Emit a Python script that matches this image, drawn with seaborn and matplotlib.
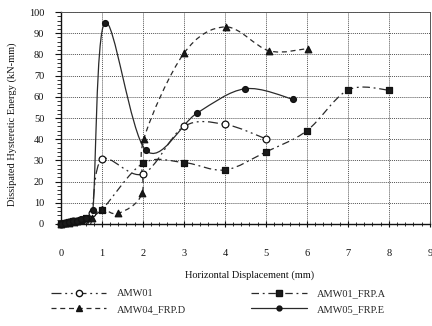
import matplotlib
matplotlib.use("Agg")
import matplotlib.pyplot as plt
from matplotlib.path import Path
from matplotlib.patches import PathPatch
from matplotlib.lines import Line2D
from matplotlib.ticker import MultipleLocator
import seaborn as sns
import pandas as pd

sns.set_style("whitegrid")
plt.rcParams["font.family"] = ["Liberation Serif", "DejaVu Serif"]

# values
amw01_x = [0, 0.1, 0.2, 0.3, 0.4, 0.5, 0.6, 0.75, 1.0, 2.0, 3.0, 4.0, 5.0]
amw01_y = [0, 0.5, 0.8, 1.2, 1.6, 2.0, 2.5, 5.0, 30.5, 23.6, 46.0, 47.0, 40.2]

amw01a_x = [0, 0.1, 0.2, 0.3, 0.4, 0.5, 0.6, 1.0, 2.0, 3.0, 4.0, 5.0, 6.0, 7.0, 8.0]
amw01a_y = [0, 0.4, 0.8, 1.2, 1.6, 2.0, 2.6, 6.8, 28.6, 29.0, 25.5, 34.0, 44.0, 63.2, 63.2]

amw04_x = [0, 0.1, 0.2, 0.3, 0.4, 0.5, 0.75, 1.0, 1.4, 1.98, 2.02, 3.0, 4.02, 5.08, 6.03]
amw04_y = [0, 0.3, 0.6, 1.0, 1.4, 1.8, 3.0, 7.0, 5.0, 14.5, 40.0, 80.5, 93.0, 81.7, 82.8]

amw05_x = [0, 0.1, 0.2, 0.3, 0.4, 0.5, 0.6, 0.78, 1.07, 2.07, 3.32, 4.49, 5.67]
amw05_y = [0, 0.4, 0.8, 1.2, 1.6, 2.2, 3.0, 6.8, 95.0, 34.8, 52.3, 63.8, 58.8]

series = [
    ("AMW01", amw01_x, amw01_y, "o", "white", (0, (8, 3, 1.5, 3, 1.5, 3))),
    ("AMW01_FRP.A", amw01a_x, amw01a_y, "s", "#1a1a1a", (0, (6, 3, 1.5, 3))),
    ("AMW04_FRP.D", amw04_x, amw04_y, "^", "#1a1a1a", (0, (4, 3))),
    ("AMW05_FRP.E", amw05_x, amw05_y, "o", "#1a1a1a", "-"),
]


def smooth_path(xs, ys):
    # excel-style smoothed line: cubic bezier between consecutive points
    verts = [(xs[0], ys[0])]
    codes = [Path.MOVETO]
    n = len(xs)
    for i in range(n - 1):
        p0 = (xs[max(i - 1, 0)], ys[max(i - 1, 0)])
        p1 = (xs[i], ys[i])
        p2 = (xs[i + 1], ys[i + 1])
        p3 = (xs[min(i + 2, n - 1)], ys[min(i + 2, n - 1)])
        c1 = (p1[0] + (p2[0] - p0[0]) / 6, p1[1] + (p2[1] - p0[1]) / 6)
        c2 = (p2[0] - (p3[0] - p1[0]) / 6, p2[1] - (p3[1] - p1[1]) / 6)
        verts += [c1, c2, p2]
        codes += [Path.CURVE4] * 3
    return Path(verts, codes)


fig = plt.figure(figsize=(4.32, 3.26), dpi=100)
ax = fig.add_axes([0.141, 0.313, 0.854, 0.650])

sizes = {"AMW01": 24, "AMW01_FRP.A": 18, "AMW04_FRP.D": 22, "AMW05_FRP.E": 18}
handles = {}
for name, xs, ys, mk, fc, ls in series:
    ax.add_patch(PathPatch(smooth_path(xs, ys), facecolor="none", edgecolor="#2a2a2a",
                           lw=0.9, linestyle=ls, zorder=3))
    df = pd.DataFrame({"x": xs, "y": ys})
    sns.scatterplot(data=df, x="x", y="y", marker=mk, s=sizes[name], color=fc,
                    edgecolor="#111111", linewidth=0.9, ax=ax, zorder=4, clip_on=False)
    handles[name] = Line2D([], [], color="#2a2a2a", lw=0.9, linestyle=ls, marker=mk,
                           markersize=3.5 if name == "AMW05_FRP.E" else 4.5,
                           markerfacecolor=fc, markeredgecolor="#111111")

ax.set_xlim(0, 9)
ax.set_ylim(0, 100)
ax.xaxis.set_major_locator(MultipleLocator(1))
ax.xaxis.set_minor_locator(MultipleLocator(0.2))
ax.yaxis.set_major_locator(MultipleLocator(10))
ax.yaxis.set_minor_locator(MultipleLocator(2))
ax.grid(True, which="major", color="#555555", linestyle=(0, (1, 1)), lw=0.7)
ax.set_axisbelow(True)

for side in ["left", "bottom"]:
    ax.spines[side].set_color("#111111")
    ax.spines[side].set_linewidth(1.0)
for side in ["top", "right"]:
    ax.spines[side].set_color("#555555")
    ax.spines[side].set_linestyle((0, (1, 1)))
    ax.spines[side].set_linewidth(0.7)

ax.tick_params(axis="x", which="major", direction="inout", length=4, width=0.8,
               pad=16, labelsize=7.5, colors="#111111", bottom=True)
ax.tick_params(axis="x", which="minor", direction="inout", length=3, width=0.6,
               bottom=True, color="#111111")
ax.tick_params(axis="y", which="major", direction="out", length=4, width=0.8,
               pad=8, labelsize=7.5, colors="#111111", left=True)
ax.tick_params(axis="y", which="minor", direction="out", length=3, width=0.6,
               left=True, color="#111111")

ax.set_xlabel("Horizontal Displacement (mm)", fontsize=7.5, color="#111111")
ax.set_ylabel("Dissipated Hysteretic Energy (kN-mm)", fontsize=7.5, color="#111111")
ax.xaxis.set_label_coords(0.512, -0.22)
ax.yaxis.set_label_coords(-0.12, 0.47)

order = ["AMW01", "AMW04_FRP.D", "AMW01_FRP.A", "AMW05_FRP.E"]
fig.legend([handles[k] for k in order], order, ncol=2, loc="upper left",
           bbox_to_anchor=(0.118, 0.113), frameon=False, fontsize=7.5,
           handlelength=5.3, handletextpad=1.0, columnspacing=6.3,
           labelspacing=0.6, borderpad=0, borderaxespad=0, numpoints=1)

fig.savefig("out.png", dpi=100)
